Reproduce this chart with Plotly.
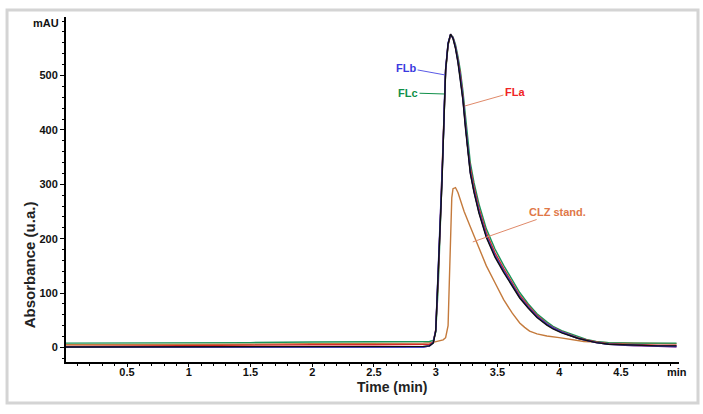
import plotly.graph_objects as go

# ---- data ----
time_main = [0.0, 0.5, 1.0, 1.5, 2.0, 2.5, 2.9, 2.95, 2.98, 3.00, 3.02, 3.04, 3.05, 3.06, 3.07, 3.08,
             3.10, 3.12, 3.14, 3.16, 3.18, 3.20, 3.22, 3.24, 3.26, 3.28, 3.31, 3.35, 3.41, 3.48, 3.55,
             3.62, 3.68, 3.75, 3.82, 3.90, 3.95, 4.02, 4.09, 4.15, 4.22, 4.30, 4.40, 4.60, 4.80, 4.95]

black_vals = [1, 1, 2, 2, 2, 2, 2, 3, 8, 30, 130, 255, 300, 370, 450, 510, 558, 576, 568, 550, 524, 494,
              455, 405, 355, 320, 285, 247, 202, 166, 138, 112, 91, 72, 55, 41, 34, 27, 21, 17, 13, 9, 6, 4, 3, 3]
purple_vals = [1, 1, 1, 1, 1, 1, 1, 3, 9, 31, 132, 256, 302, 371, 451, 511, 559, 576, 569, 551, 525, 496,
               457, 407, 357, 322, 287, 249, 204, 168, 140, 114, 92, 73, 56, 42, 35, 28, 22, 17, 13, 9, 6, 3, 2, 1]
fla_vals = [2, 3, 3, 5, 5, 5, 5, 6, 10, 33, 128, 250, 298, 365, 448, 508, 557, 574, 570, 554, 530, 501,
            463, 414, 365, 331, 295, 256, 211, 174, 145, 119, 96, 77, 59, 44, 37, 29, 23, 18, 14, 10, 7, 5, 4, 4]
flb_vals = [1, 1, 1, 1, 1, 1, 1, 3, 9, 32, 135, 258, 305, 372, 452, 512, 560, 575, 569, 552, 527, 497,
            458, 408, 358, 323, 288, 250, 205, 169, 141, 115, 93, 74, 57, 43, 36, 28, 22, 17, 13, 9, 6, 4, 3, 2]
flc_vals = [8, 8, 9, 9, 10, 10, 10, 11, 13, 28, 110, 235, 285, 355, 440, 505, 556, 574, 571, 557, 535, 508,
            472, 425, 375, 340, 303, 264, 218, 181, 151, 124, 101, 80, 62, 47, 39, 31, 25, 20, 15, 11, 9, 8, 8, 8]

time_clz = [0.0, 0.5, 1.0, 1.5, 2.0, 2.5, 2.9, 2.97, 3.02, 3.06, 3.08, 3.10, 3.11, 3.12, 3.13, 3.14, 3.16,
            3.18, 3.20, 3.23, 3.28, 3.34, 3.41, 3.48, 3.55, 3.62, 3.68, 3.72, 3.76, 3.82, 3.90, 4.00, 4.09,
            4.20, 4.40, 4.60, 4.80, 4.95]
clz_vals = [5, 5, 6, 6, 7, 7, 8, 9, 11, 14, 18, 40, 120, 220, 275, 292, 294, 285, 270, 250, 222, 190, 150,
            119, 88, 63, 45, 37, 30, 25, 21, 18, 15, 11, 9, 8, 7, 7]

x_ticks = [0.5, 1, 1.5, 2, 2.5, 3, 3.5, 4, 4.5]
x_ticktext = ["0.5", "1", "1.5", "2", "2.5", "3", "3.5", "4", "4.5"]
y_ticks = [0, 100, 200, 300, 400, 500]

series = [
    ("CLZ stand.", time_clz, clz_vals, "#C47A3C"),
    ("FLc", time_main, flc_vals, "#18955A"),
    ("FLa", time_main, fla_vals, "#D42A2A"),
    ("purple", time_main, purple_vals, "#7A2C9A"),
    ("FLb", time_main, flb_vals, "#2F3FD0"),
    ("black", time_main, black_vals, "#111111"),
]

fig = go.Figure()
for name, xs, ys, col in series:
    fig.add_trace(go.Scatter(x=xs, y=ys, mode="lines", name=name,
                             line=dict(color=col, width=1.4), showlegend=False))

FONT = "Liberation Sans, Arial, sans-serif"
tickfont = dict(family=FONT, size=11, color="#111", weight="bold")

fig.update_layout(
    width=703, height=414,
    margin=dict(l=66, r=24, t=17, b=52),
    paper_bgcolor="white", plot_bgcolor="white",
    xaxis=dict(range=[0.006, 4.97], showgrid=False, zeroline=False,
               showline=True, linecolor="black", linewidth=2,
               ticks="outside", ticklen=3, tickcolor="black", ticklabelstandoff=-4,
               tickvals=x_ticks, ticktext=x_ticktext, tickfont=tickfont,
               minor=dict(dtick=0.1, tick0=0, ticks="outside", ticklen=2, tickcolor="black")),
    yaxis=dict(range=[-26.7, 607.5], showgrid=False, zeroline=False,
               showline=True, linecolor="black", linewidth=2,
               ticks="outside", ticklen=4, tickcolor="black",
               tickvals=y_ticks, tickfont=tickfont,
               minor=dict(dtick=20, tick0=0, ticks="outside", ticklen=2, tickcolor="black")),
    shapes=[dict(type="rect", xref="paper", yref="paper",
                 x0=-0.0962, x1=1.031, y0=-0.1188, y1=1.0203,
                 line=dict(color="#D4D4D4", width=3), fillcolor="rgba(0,0,0,0)", layer="below")],
)

ann = [
    dict(text="mAU", xref="paper", yref="paper", x=-0.0326, y=0.983, showarrow=False,
         xanchor="center", yanchor="middle",
         font=dict(family=FONT, size=11, color="#111", weight="bold")),
    dict(text="min", xref="paper", yref="paper", x=0.997, y=-0.029, showarrow=False,
         xanchor="center", yanchor="middle",
         font=dict(family=FONT, size=11, color="#111", weight="bold")),
    dict(text="Absorbance (u.a.)", xref="paper", yref="paper", x=-0.060, y=0.281, textangle=-90,
         xanchor="center", yanchor="middle",
         showarrow=False, font=dict(family=FONT, size=15, color="#222", weight="bold")),
    dict(text="Time (min)", xref="paper", yref="paper", x=0.532, y=-0.0725, showarrow=False,
         xanchor="center", yanchor="middle",
         font=dict(family=FONT, size=14, color="#222", weight="bold")),
]
labels = [
    ("FLb", 3.075, 501, 2.76, 514, "#3A3AE0", "#5A5AE6"),
    ("FLc", 3.067, 466, 2.776, 468, "#10904A", "#10904A"),
    ("FLa", 3.237, 444, 3.641, 470, "#F02424", "#E08A6A"),
    ("CLZ stand.", 3.30, 194, 3.99, 249, "#E07848", "#E08A6A"),
]
for txt, x, y, ax, ay, tc, lc in labels:
    ann.append(dict(text=txt, x=x, y=y, ax=ax, ay=ay, xref="x", yref="y", axref="x", ayref="y",
                    showarrow=True, arrowhead=0, arrowwidth=1, arrowcolor=lc, standoff=0,
                    font=dict(family=FONT, size=11, color=tc, weight="bold")))
fig.update_layout(annotations=ann)

fig.write_html("out.html")
